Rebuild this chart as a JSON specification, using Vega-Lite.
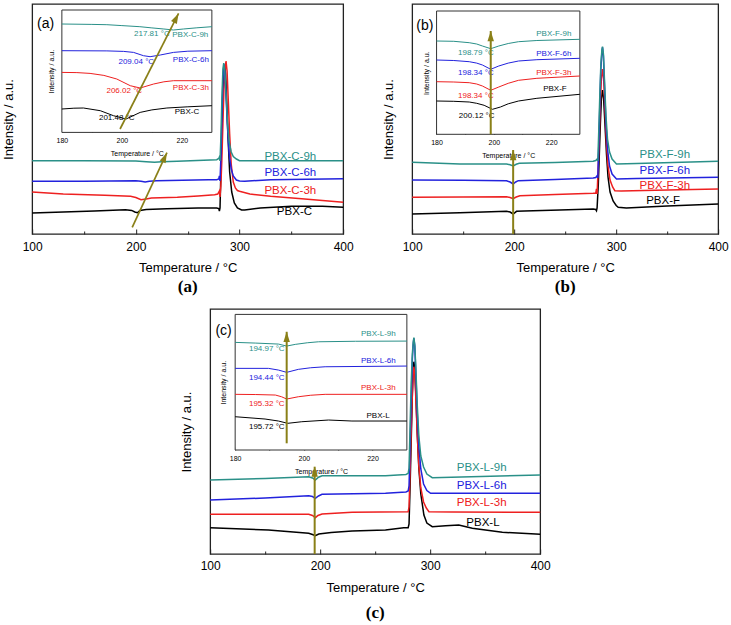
{
"$schema":"https://vega.github.io/schema/vega-lite/v6.json",
"background":"white",
"padding":{"left":1,"top":3,"right":0,"bottom":0},
"datasets":{
"aM":[
{"g":"0","t":100,"v":21},{"g":"0","t":130,"v":22},{"g":"0","t":160,"v":23},{"g":"0","t":190,"v":24.3},{"g":"0","t":196,"v":23.6},{"g":"0","t":199,"v":22},{"g":"0","t":201.5,"v":21.3},{"g":"0","t":204,"v":23.5},{"g":"0","t":210,"v":24.5},{"g":"0","t":230,"v":25.3},{"g":"0","t":260,"v":26},{"g":"0","t":278,"v":26},{"g":"0","t":280,"v":25.5},{"g":"0","t":280.6,"v":23},{"g":"0","t":281.2,"v":26},{"g":"0","t":282,"v":60},{"g":"0","t":283,"v":105},{"g":"0","t":284,"v":145},{"g":"0","t":285,"v":165},{"g":"0","t":285.7,"v":168},{"g":"0","t":286.6,"v":160},{"g":"0","t":287.6,"v":135},{"g":"0","t":289,"v":95},{"g":"0","t":290.5,"v":62},{"g":"0","t":292.5,"v":42},{"g":"0","t":295,"v":31},{"g":"0","t":298,"v":26},{"g":"0","t":302,"v":24},{"g":"0","t":305,"v":24},{"g":"0","t":320,"v":26},{"g":"0","t":350,"v":27.7},{"g":"0","t":380,"v":27.7},{"g":"0","t":400,"v":26.7},
{"g":"3","t":100,"v":42},{"g":"3","t":130,"v":40},{"g":"3","t":170,"v":38.7},{"g":"3","t":195,"v":37.7},{"g":"3","t":200,"v":36.5},{"g":"3","t":205,"v":34.3},{"g":"3","t":210,"v":35},{"g":"3","t":215,"v":36},{"g":"3","t":240,"v":36.7},{"g":"3","t":260,"v":38},{"g":"3","t":276,"v":39.3},{"g":"3","t":279,"v":40},{"g":"3","t":280.6,"v":43},{"g":"3","t":281.2,"v":37},{"g":"3","t":282,"v":48},{"g":"3","t":283,"v":75},{"g":"3","t":284,"v":110},{"g":"3","t":285,"v":145},{"g":"3","t":286,"v":166},{"g":"3","t":287,"v":173},{"g":"3","t":288,"v":163},{"g":"3","t":289,"v":138},{"g":"3","t":290.5,"v":100},{"g":"3","t":292,"v":70},{"g":"3","t":294,"v":52},{"g":"3","t":296,"v":46},{"g":"3","t":298,"v":43.5},{"g":"3","t":300,"v":42.7},{"g":"3","t":310,"v":40},{"g":"3","t":330,"v":37.7},{"g":"3","t":360,"v":35.3},{"g":"3","t":400,"v":31.7},
{"g":"6","t":100,"v":52.7},{"g":"6","t":150,"v":52.7},{"g":"6","t":200,"v":53.3},{"g":"6","t":205,"v":52.8},{"g":"6","t":209,"v":52},{"g":"6","t":213,"v":52.8},{"g":"6","t":220,"v":53.3},{"g":"6","t":270,"v":54.3},{"g":"6","t":278,"v":54.3},{"g":"6","t":280,"v":55},{"g":"6","t":280.6,"v":58},{"g":"6","t":281.2,"v":53},{"g":"6","t":282,"v":75},{"g":"6","t":283,"v":115},{"g":"6","t":284,"v":155},{"g":"6","t":285,"v":170},{"g":"6","t":286,"v":160},{"g":"6","t":287,"v":138},{"g":"6","t":288.5,"v":105},{"g":"6","t":290,"v":80},{"g":"6","t":292,"v":65},{"g":"6","t":294,"v":58},{"g":"6","t":297,"v":54},{"g":"6","t":300,"v":53},{"g":"6","t":305,"v":52.7},{"g":"6","t":330,"v":54.3},{"g":"6","t":400,"v":55.3},
{"g":"9","t":100,"v":73.3},{"g":"9","t":150,"v":73.3},{"g":"9","t":200,"v":73},{"g":"9","t":210,"v":72.2},{"g":"9","t":218,"v":71.7},{"g":"9","t":225,"v":72.2},{"g":"9","t":240,"v":72.7},{"g":"9","t":278,"v":74.3},{"g":"9","t":280,"v":75.5},{"g":"9","t":280.6,"v":77},{"g":"9","t":281.2,"v":73},{"g":"9","t":282,"v":95},{"g":"9","t":283,"v":135},{"g":"9","t":284,"v":165},{"g":"9","t":284.8,"v":171},{"g":"9","t":285.8,"v":163},{"g":"9","t":287,"v":140},{"g":"9","t":288.5,"v":110},{"g":"9","t":290,"v":92},{"g":"9","t":292,"v":82},{"g":"9","t":294,"v":77.5},{"g":"9","t":297,"v":75},{"g":"9","t":300,"v":73.3},{"g":"9","t":400,"v":73.3}
],
"aI":[
{"g":"9","t":180,"v":108.4},{"g":"9","t":190,"v":108},{"g":"9","t":195,"v":107.7},{"g":"9","t":200,"v":106.8},{"g":"9","t":206,"v":105.7},{"g":"9","t":210,"v":104.5},{"g":"9","t":214,"v":103.4},{"g":"9","t":217.2,"v":102.4},{"g":"9","t":220.5,"v":103.4},{"g":"9","t":225,"v":104.6},{"g":"9","t":230,"v":105.7},
{"g":"6","t":180,"v":81.7},{"g":"6","t":195,"v":81.5},{"g":"6","t":200.6,"v":81},{"g":"6","t":203.9,"v":80},{"g":"6","t":207.2,"v":76.7},{"g":"6","t":209.4,"v":75.7},{"g":"6","t":212.8,"v":77.4},{"g":"6","t":217.2,"v":80},{"g":"6","t":222,"v":81.2},{"g":"6","t":230,"v":81.7},
{"g":"3","t":180,"v":60},{"g":"3","t":185,"v":59.8},{"g":"3","t":189.4,"v":59},{"g":"3","t":194,"v":57},{"g":"3","t":198.3,"v":53.4},{"g":"3","t":202.8,"v":46.7},{"g":"3","t":206.1,"v":44.4},{"g":"3","t":210.6,"v":48.4},{"g":"3","t":214,"v":50.6},{"g":"3","t":217.2,"v":51.7},{"g":"3","t":230,"v":51.7},
{"g":"0","t":180,"v":23.4},{"g":"0","t":184,"v":24.2},{"g":"0","t":187.2,"v":24.4},{"g":"0","t":192.8,"v":21.7},{"g":"0","t":197.2,"v":16.7},{"g":"0","t":201.4,"v":13.4},{"g":"0","t":206.1,"v":20},{"g":"0","t":210,"v":22.5},{"g":"0","t":215,"v":24.4},{"g":"0","t":222,"v":25.6},{"g":"0","t":230,"v":26.7}
],
"aML":[{"label":"PBX-C-9h","g":"9","t":349,"v":76.7},{"label":"PBX-C-6h","g":"6","t":349,"v":61},{"label":"PBX-C-3h","g":"3","t":349,"v":42.7},{"label":"PBX-C","g":"0","t":353,"v":22}],
"aIL":[{"label":"217.81 °C","g":"9","t":210,"v":98.4},{"label":"PBX-C-9h","g":"9","t":222.8,"v":97.4},{"label":"209.04 °C","g":"6","t":204.8,"v":70.7},{"label":"PBX-C-6h","g":"6","t":223,"v":72.7},{"label":"206.02 °C","g":"3","t":200.8,"v":41.7},{"label":"PBX-C-3h","g":"3","t":223,"v":44},{"label":"201.48 °C","g":"0","t":198.3,"v":14.4},{"label":"PBX-C","g":"0","t":221.7,"v":20}],
"aMA":[{"t":230,"v":81.3,"t2":196.5,"v2":6.7}],
"aIA":[{"t":218.9,"v":119,"t2":199.4,"v2":3.4}],
"aF":[{"t":180,"v":0,"t2":230,"v2":122.4}],
"aT":[{"label":"(a)","t":113,"v":210}],
"bM":[
{"g":"0","t":100,"v":20},{"g":"0","t":146.7,"v":21.3},{"g":"0","t":192.5,"v":22.7},{"g":"0","t":196,"v":22},{"g":"0","t":199,"v":20},{"g":"0","t":202.3,"v":22.7},{"g":"0","t":210,"v":23},{"g":"0","t":244.8,"v":24},{"g":"0","t":277.5,"v":25},{"g":"0","t":280,"v":24.5},{"g":"0","t":280.7,"v":23.3},{"g":"0","t":281.3,"v":26},{"g":"0","t":282.5,"v":50},{"g":"0","t":283.5,"v":80},{"g":"0","t":284.5,"v":110},{"g":"0","t":285.5,"v":135},{"g":"0","t":286.6,"v":144},{"g":"0","t":287.7,"v":135},{"g":"0","t":289,"v":110},{"g":"0","t":290.5,"v":80},{"g":"0","t":292,"v":57},{"g":"0","t":294,"v":42},{"g":"0","t":297,"v":33},{"g":"0","t":300,"v":28.5},{"g":"0","t":302,"v":26.7},{"g":"0","t":310,"v":26},{"g":"0","t":350,"v":28},{"g":"0","t":400,"v":30},
{"g":"3","t":100,"v":36.7},{"g":"3","t":150,"v":37},{"g":"3","t":192.5,"v":37.3},{"g":"3","t":196,"v":36.5},{"g":"3","t":199,"v":35.3},{"g":"3","t":202,"v":37},{"g":"3","t":205.6,"v":38.3},{"g":"3","t":240,"v":39.5},{"g":"3","t":277.5,"v":40.7},{"g":"3","t":280,"v":41},{"g":"3","t":280.7,"v":45},{"g":"3","t":281.3,"v":40},{"g":"3","t":282.5,"v":70},{"g":"3","t":283.5,"v":100},{"g":"3","t":284.5,"v":130},{"g":"3","t":285.5,"v":155},{"g":"3","t":286.6,"v":165},{"g":"3","t":287.7,"v":155},{"g":"3","t":289,"v":125},{"g":"3","t":290.5,"v":90},{"g":"3","t":292,"v":68},{"g":"3","t":294,"v":54},{"g":"3","t":296.5,"v":47},{"g":"3","t":298.7,"v":43.3},{"g":"3","t":305,"v":43},{"g":"3","t":350,"v":44},{"g":"3","t":400,"v":45},
{"g":"6","t":100,"v":54},{"g":"6","t":150,"v":53.7},{"g":"6","t":192.5,"v":53.3},{"g":"6","t":196,"v":52},{"g":"6","t":199,"v":50},{"g":"6","t":201.5,"v":52},{"g":"6","t":204,"v":53.3},{"g":"6","t":240,"v":54.5},{"g":"6","t":277.5,"v":56},{"g":"6","t":280,"v":56.5},{"g":"6","t":281.4,"v":58.3},{"g":"6","t":282,"v":56},{"g":"6","t":283,"v":90},{"g":"6","t":284,"v":130},{"g":"6","t":285,"v":165},{"g":"6","t":286,"v":182},{"g":"6","t":286.6,"v":186.7},{"g":"6","t":287.5,"v":178},{"g":"6","t":288.5,"v":150},{"g":"6","t":290,"v":110},{"g":"6","t":291.5,"v":85},{"g":"6","t":293.5,"v":68},{"g":"6","t":296,"v":60},{"g":"6","t":300.3,"v":55},{"g":"6","t":320,"v":55.5},{"g":"6","t":400,"v":56.7},
{"g":"9","t":100,"v":71.7},{"g":"9","t":146.7,"v":70},{"g":"9","t":192.5,"v":70},{"g":"9","t":196,"v":69.3},{"g":"9","t":199,"v":68},{"g":"9","t":202,"v":69.7},{"g":"9","t":205,"v":70.7},{"g":"9","t":240,"v":71.5},{"g":"9","t":277.5,"v":72.7},{"g":"9","t":280,"v":73.5},{"g":"9","t":281.4,"v":75},{"g":"9","t":282,"v":73},{"g":"9","t":283,"v":105},{"g":"9","t":284,"v":140},{"g":"9","t":285,"v":170},{"g":"9","t":286,"v":184},{"g":"9","t":286.6,"v":187.3},{"g":"9","t":287.5,"v":180},{"g":"9","t":288.5,"v":155},{"g":"9","t":290,"v":118},{"g":"9","t":291.5,"v":95},{"g":"9","t":293.5,"v":82},{"g":"9","t":296,"v":75},{"g":"9","t":300.3,"v":70},{"g":"9","t":320,"v":70.5},{"g":"9","t":400,"v":72.7}
],
"bI":[
{"g":"9","t":180,"v":93.3},{"g":"9","t":186,"v":93},{"g":"9","t":191.4,"v":91.6},{"g":"9","t":194,"v":90.3},{"g":"9","t":196,"v":88.3},{"g":"9","t":198.9,"v":85.6},{"g":"9","t":201.7,"v":88.3},{"g":"9","t":205,"v":90.8},{"g":"9","t":208.6,"v":92.6},{"g":"9","t":215,"v":93.8},{"g":"9","t":230,"v":95},
{"g":"6","t":180,"v":74.3},{"g":"6","t":186,"v":73.8},{"g":"6","t":191.4,"v":72.6},{"g":"6","t":194,"v":71.2},{"g":"6","t":196,"v":69.3},{"g":"6","t":198.9,"v":65},{"g":"6","t":201.7,"v":68.3},{"g":"6","t":205,"v":71.2},{"g":"6","t":208.6,"v":73.3},{"g":"6","t":215,"v":74.6},{"g":"6","t":230,"v":76},
{"g":"3","t":180,"v":52.6},{"g":"3","t":186,"v":52.3},{"g":"3","t":191.4,"v":51.6},{"g":"3","t":194,"v":50.3},{"g":"3","t":196,"v":48.3},{"g":"3","t":198.9,"v":44},{"g":"3","t":201.7,"v":47.3},{"g":"3","t":205,"v":51},{"g":"3","t":208.6,"v":54},{"g":"3","t":215,"v":56},{"g":"3","t":230,"v":58.3},
{"g":"0","t":180,"v":33.3},{"g":"0","t":186,"v":33},{"g":"0","t":191.4,"v":32.3},{"g":"0","t":194,"v":31},{"g":"0","t":196.6,"v":29},{"g":"0","t":199.5,"v":25},{"g":"0","t":202.3,"v":27.3},{"g":"0","t":205,"v":30.5},{"g":"0","t":208.6,"v":33.3},{"g":"0","t":215,"v":36},{"g":"0","t":230,"v":40}
],
"bML":[{"label":"PBX-F-9h","g":"9","t":347.7,"v":79.3},{"label":"PBX-F-6h","g":"6","t":347.7,"v":62.7},{"label":"PBX-F-3h","g":"3","t":347.7,"v":47.7},{"label":"PBX-F","g":"0","t":346,"v":33.3}],
"bIL":[{"label":"198.79 °C","g":"9","t":193.7,"v":81.6},{"label":"PBX-F-9h","g":"9","t":220.9,"v":100},{"label":"198.34 °C","g":"6","t":193.7,"v":61},{"label":"PBX-F-6h","g":"6","t":220.9,"v":80},{"label":"198.34 °C","g":"3","t":193.7,"v":38.3},{"label":"PBX-F-3h","g":"3","t":220.9,"v":61.6},{"label":"200.12 °C","g":"0","t":194,"v":18.3},{"label":"PBX-F","g":"0","t":221.3,"v":45}],
"bMA":[{"t":199,"v":84,"t2":199,"v2":0}],
"bIA":[{"t":198.9,"v":103.3,"t2":198.9,"v2":0}],
"bF":[{"t":180,"v":0,"t2":230,"v2":123.3}],
"bT":[{"label":"(b)","t":112.5,"v":208}],
"cM":[
{"g":"0","t":100,"v":26.3},{"g":"0","t":153,"v":24},{"g":"0","t":189.6,"v":20.7},{"g":"0","t":193,"v":19.5},{"g":"0","t":195.6,"v":18.3},{"g":"0","t":198.7,"v":20},{"g":"0","t":210,"v":21.5},{"g":"0","t":229,"v":23},{"g":"0","t":259.4,"v":24},{"g":"0","t":276,"v":26.3},{"g":"0","t":280,"v":26.3},{"g":"0","t":280.8,"v":30},{"g":"0","t":281.8,"v":70},{"g":"0","t":282.8,"v":115},{"g":"0","t":283.8,"v":160},{"g":"0","t":284.6,"v":185},{"g":"0","t":285.2,"v":192.3},{"g":"0","t":286,"v":185},{"g":"0","t":287,"v":160},{"g":"0","t":288.3,"v":120},{"g":"0","t":289.7,"v":85.7},{"g":"0","t":291.5,"v":60},{"g":"0","t":294.3,"v":39},{"g":"0","t":297,"v":31},{"g":"0","t":301.9,"v":27.3},{"g":"0","t":314,"v":28.3},{"g":"0","t":326,"v":29},{"g":"0","t":338.3,"v":25.7},{"g":"0","t":365.6,"v":21.7},{"g":"0","t":400,"v":19.7},
{"g":"3","t":100,"v":39.7},{"g":"3","t":150,"v":39.7},{"g":"3","t":189.6,"v":39.7},{"g":"3","t":193,"v":38.5},{"g":"3","t":195.6,"v":36.3},{"g":"3","t":198,"v":38.5},{"g":"3","t":201.7,"v":40},{"g":"3","t":229,"v":41.7},{"g":"3","t":280,"v":42.3},{"g":"3","t":280.8,"v":47},{"g":"3","t":281.8,"v":85},{"g":"3","t":282.8,"v":125},{"g":"3","t":283.8,"v":160},{"g":"3","t":284.6,"v":180},{"g":"3","t":285.2,"v":187.3},{"g":"3","t":286,"v":180},{"g":"3","t":287,"v":155},{"g":"3","t":288.3,"v":118},{"g":"3","t":289.7,"v":88},{"g":"3","t":291.5,"v":66},{"g":"3","t":294,"v":52},{"g":"3","t":296.5,"v":46},{"g":"3","t":298.9,"v":42.3},{"g":"3","t":320,"v":42},{"g":"3","t":400,"v":41.7},
{"g":"6","t":100,"v":54},{"g":"6","t":150,"v":56},{"g":"6","t":189.6,"v":58.3},{"g":"6","t":193,"v":57.5},{"g":"6","t":195.6,"v":55.7},{"g":"6","t":198.5,"v":58},{"g":"6","t":201.7,"v":59.7},{"g":"6","t":259.4,"v":60.7},{"g":"6","t":278,"v":62},{"g":"6","t":280,"v":63},{"g":"6","t":280.8,"v":68},{"g":"6","t":281.8,"v":110},{"g":"6","t":282.8,"v":155},{"g":"6","t":283.8,"v":195},{"g":"6","t":284.6,"v":210},{"g":"6","t":285.2,"v":215.7},{"g":"6","t":286,"v":208},{"g":"6","t":287,"v":180},{"g":"6","t":288.3,"v":140},{"g":"6","t":289.7,"v":108},{"g":"6","t":291.5,"v":85},{"g":"6","t":294,"v":70},{"g":"6","t":297,"v":63.5},{"g":"6","t":300.4,"v":60.7},{"g":"6","t":400,"v":60.7},
{"g":"9","t":100,"v":74},{"g":"9","t":150,"v":75.5},{"g":"9","t":189.6,"v":77.3},{"g":"9","t":193,"v":76},{"g":"9","t":195.6,"v":74},{"g":"9","t":198.5,"v":76.8},{"g":"9","t":201.7,"v":78.3},{"g":"9","t":259.4,"v":78.3},{"g":"9","t":278,"v":79.5},{"g":"9","t":280,"v":80.7},{"g":"9","t":280.8,"v":86},{"g":"9","t":281.8,"v":130},{"g":"9","t":282.8,"v":172},{"g":"9","t":283.8,"v":200},{"g":"9","t":284.6,"v":212},{"g":"9","t":285.2,"v":216.3},{"g":"9","t":286,"v":209},{"g":"9","t":287,"v":185},{"g":"9","t":288.3,"v":148},{"g":"9","t":289.7,"v":118},{"g":"9","t":291.5,"v":98},{"g":"9","t":294,"v":87},{"g":"9","t":297,"v":80},{"g":"9","t":301.9,"v":76.3},{"g":"9","t":400,"v":79}
],
"cI":[
{"g":"9","t":180,"v":107.7},{"g":"9","t":186,"v":107},{"g":"9","t":192.6,"v":106},{"g":"9","t":195,"v":104},{"g":"9","t":197.5,"v":105.7},{"g":"9","t":201,"v":107.3},{"g":"9","t":204.3,"v":108.3},{"g":"9","t":215,"v":108.8},{"g":"9","t":230,"v":109},
{"g":"6","t":180,"v":81.7},{"g":"6","t":189.7,"v":81.7},{"g":"6","t":192.6,"v":80},{"g":"6","t":195,"v":77.7},{"g":"6","t":198.4,"v":80.7},{"g":"6","t":202,"v":82.3},{"g":"6","t":206.2,"v":83.3},{"g":"6","t":230,"v":84},
{"g":"3","t":180,"v":55.7},{"g":"3","t":186,"v":55.5},{"g":"3","t":191.7,"v":55},{"g":"3","t":193.5,"v":53.3},{"g":"3","t":195,"v":51},{"g":"3","t":198.4,"v":53.3},{"g":"3","t":202,"v":54.8},{"g":"3","t":206.2,"v":55.7},{"g":"3","t":230,"v":55.7},
{"g":"0","t":180,"v":33.3},{"g":"0","t":188.7,"v":31},{"g":"0","t":192.6,"v":29},{"g":"0","t":195.3,"v":26.7},{"g":"0","t":199.4,"v":28.3},{"g":"0","t":207.2,"v":30},{"g":"0","t":214,"v":29},{"g":"0","t":230,"v":29}
],
"cML":[{"label":"PBX-L-9h","g":"9","t":346.8,"v":85.7},{"label":"PBX-L-6h","g":"6","t":346.8,"v":68},{"label":"PBX-L-3h","g":"3","t":346.8,"v":51.3},{"label":"PBX-L","g":"0","t":348,"v":31.3}],
"cIL":[{"label":"194.97 °C","g":"9","t":189.2,"v":100.7},{"label":"PBX-L-9h","g":"9","t":221.7,"v":115.7},{"label":"194.44 °C","g":"6","t":189.2,"v":71.7},{"label":"PBX-L-6h","g":"6","t":221.7,"v":89.3},{"label":"195.32 °C","g":"3","t":189.2,"v":45.7},{"label":"PBX-L-3h","g":"3","t":221.7,"v":61.7},{"label":"195.72 °C","g":"0","t":189.2,"v":22.7},{"label":"PBX-L","g":"0","t":221.6,"v":34.3}],
"cMA":[{"t":195,"v":87.3,"t2":195,"v2":0}],
"cIA":[{"t":195,"v":118.3,"t2":195,"v2":6.7}],
"cF":[{"t":180,"v":0,"t2":230,"v2":135.7}],
"cT":[{"label":"(c)","t":112.2,"v":223}]
},
"vconcat":[
{"hconcat":[
{
"width":311,"height":230,
"title":{"text":"(a)","orient":"bottom","font":"Liberation Serif","fontSize":17,"fontWeight":"bold","offset":5,"color":"black"},
"layer":[
{"encoding":{
"x":{"field":"t","type":"quantitative","scale":{"domain":[100,400],"nice":false,"zero":false},"axis":{"orient":"bottom","values":[100,150,200,250,300,350,400],"labelExpr":"datum.value % 100 === 0 ? datum.label : ''","tickSize":{"condition":{"test":"datum.value % 100 === 0","value":-5},"value":-3},"domain":false,"labelFontSize":12,"labelPadding":12,"labelFlush":false,"labelOverlap":false,"title":"Temperature / °C","titleFontSize":13,"titlePadding":7}},
"y":{"field":"v","type":"quantitative","scale":{"domain":[0,230],"nice":false,"zero":false},"axis":{"orient":"left","title":"Intensity / a.u.","labels":false,"ticks":false,"domain":false,"titleFontSize":13,"titlePadding":17}}},
"layer":[
{"data":{"name":"aM"},"mark":{"type":"line","strokeWidth":1.5},"encoding":{"color":{"field":"g","type":"nominal","scale":{"domain":["0","3","6","9"],"range":["#000000","#ee2020","#2222dd","#2a9088"]},"legend":null}}},
{"data":{"name":"aML"},"mark":{"type":"text","fontSize":11.5},"encoding":{"text":{"field":"label"},"color":{"field":"g","type":"nominal","scale":{"domain":["0","3","6","9"],"range":["#000000","#ee2020","#2222dd","#2a9088"]},"legend":null}}},
{"data":{"name":"aMA"},"mark":{"type":"rule","color":"#8a8018","strokeWidth":1.7},"encoding":{"x2":{"field":"t2"},"y2":{"field":"v2"}}},
{"data":{"name":"aMA"},"mark":{"type":"point","shape":"M0,0L0.7,2.2L-0.7,2.2Z","filled":true,"color":"#8a8018","opacity":1,"size":85,"angle":25},"encoding":{}},
{"data":{"name":"aT"},"mark":{"type":"text","fontSize":14,"color":"black"},"encoding":{"text":{"field":"label"}}}
]},
{"encoding":{
"x":{"field":"t","type":"quantitative","scale":{"domain":[180,230],"range":[29.7,179.7],"nice":false,"zero":false},"axis":{"orient":"bottom","offset":-101.6,"values":[180,190,200,210,220],"labelExpr":"datum.value % 20 === 0 ? datum.label : ''","tickSize":{"condition":{"test":"datum.value % 20 === 0","value":-3},"value":-2},"domain":false,"labelFontSize":7,"labelPadding":7,"labelFlush":false,"labelOverlap":false,"title":"Temperature / °C","titleFontSize":7,"titlePadding":5}},
"y":{"field":"v","type":"quantitative","scale":{"domain":[0,122.4],"range":[128.4,6],"nice":false,"zero":false},"axis":{"orient":"left","offset":-29.7,"title":"Intensity / a.u.","labels":false,"ticks":false,"domain":false,"titleFontSize":7,"titlePadding":7}}},
"layer":[
{"data":{"name":"aF"},"mark":{"type":"rect","fill":"white","stroke":"#333","strokeWidth":1},"encoding":{"x2":{"field":"t2"},"y2":{"field":"v2"}}},
{"data":{"name":"aI"},"mark":{"type":"line","strokeWidth":1},"encoding":{"color":{"field":"g","type":"nominal","scale":{"domain":["0","3","6","9"],"range":["#000000","#ee2020","#2222dd","#2a9088"]},"legend":null}}},
{"data":{"name":"aIL"},"mark":{"type":"text","fontSize":8},"encoding":{"text":{"field":"label"},"color":{"field":"g","type":"nominal","scale":{"domain":["0","3","6","9"],"range":["#000000","#ee2020","#2222dd","#2a9088"]},"legend":null}}},
{"data":{"name":"aIA"},"mark":{"type":"rule","color":"#8a8018","strokeWidth":1.7},"encoding":{"x2":{"field":"t2"},"y2":{"field":"v2"}}},
{"data":{"name":"aIA"},"mark":{"type":"point","shape":"M0,0L0.7,2.2L-0.7,2.2Z","filled":true,"color":"#8a8018","opacity":1,"size":85,"angle":27},"encoding":{}}
]}
],
"resolve":{"scale":{"x":"independent","y":"independent"},"axis":{"x":"independent","y":"independent"}}
},
{
"width":306,"height":230,
"title":{"text":"(b)","orient":"bottom","font":"Liberation Serif","fontSize":17,"fontWeight":"bold","offset":5,"color":"black"},
"layer":[
{"encoding":{
"x":{"field":"t","type":"quantitative","scale":{"domain":[100,400],"nice":false,"zero":false},"axis":{"orient":"bottom","values":[100,150,200,250,300,350,400],"labelExpr":"datum.value % 100 === 0 ? datum.label : ''","tickSize":{"condition":{"test":"datum.value % 100 === 0","value":-5},"value":-3},"domain":false,"labelFontSize":12,"labelPadding":12,"labelFlush":false,"labelOverlap":false,"title":"Temperature / °C","titleFontSize":13,"titlePadding":7}},
"y":{"field":"v","type":"quantitative","scale":{"domain":[0,230],"nice":false,"zero":false},"axis":{"orient":"left","title":"Intensity / a.u.","labels":false,"ticks":false,"domain":false,"titleFontSize":13,"titlePadding":17}}},
"layer":[
{"data":{"name":"bM"},"mark":{"type":"line","strokeWidth":1.5},"encoding":{"color":{"field":"g","type":"nominal","scale":{"domain":["0","3","6","9"],"range":["#000000","#ee2020","#2222dd","#2a9088"]},"legend":null}}},
{"data":{"name":"bML"},"mark":{"type":"text","fontSize":11.5},"encoding":{"text":{"field":"label"},"color":{"field":"g","type":"nominal","scale":{"domain":["0","3","6","9"],"range":["#000000","#ee2020","#2222dd","#2a9088"]},"legend":null}}},
{"data":{"name":"bMA"},"mark":{"type":"rule","color":"#8a8018","strokeWidth":2},"encoding":{"x2":{"field":"t2"},"y2":{"field":"v2"}}},
{"data":{"name":"bMA"},"mark":{"type":"point","shape":"M0,0L0.7,2.2L-0.7,2.2Z","filled":true,"color":"#8a8018","opacity":1,"size":85},"encoding":{}},
{"data":{"name":"bT"},"mark":{"type":"text","fontSize":14,"color":"black"},"encoding":{"text":{"field":"label"}}}
]},
{"encoding":{
"x":{"field":"t","type":"quantitative","scale":{"domain":[180,230],"range":[24.4,167.7],"nice":false,"zero":false},"axis":{"orient":"bottom","offset":-99.7,"values":[180,190,200,210,220],"labelExpr":"datum.value % 20 === 0 ? datum.label : ''","tickSize":{"condition":{"test":"datum.value % 20 === 0","value":-3},"value":-2},"domain":false,"labelFontSize":7,"labelPadding":7,"labelFlush":false,"labelOverlap":false,"title":"Temperature / °C","titleFontSize":7,"titlePadding":5}},
"y":{"field":"v","type":"quantitative","scale":{"domain":[0,123.3],"range":[130.3,7],"nice":false,"zero":false},"axis":{"orient":"left","offset":-24.4,"title":"Intensity / a.u.","labels":false,"ticks":false,"domain":false,"titleFontSize":7,"titlePadding":7}}},
"layer":[
{"data":{"name":"bF"},"mark":{"type":"rect","fill":"white","stroke":"#333","strokeWidth":1},"encoding":{"x2":{"field":"t2"},"y2":{"field":"v2"}}},
{"data":{"name":"bI"},"mark":{"type":"line","strokeWidth":1},"encoding":{"color":{"field":"g","type":"nominal","scale":{"domain":["0","3","6","9"],"range":["#000000","#ee2020","#2222dd","#2a9088"]},"legend":null}}},
{"data":{"name":"bIL"},"mark":{"type":"text","fontSize":8},"encoding":{"text":{"field":"label"},"color":{"field":"g","type":"nominal","scale":{"domain":["0","3","6","9"],"range":["#000000","#ee2020","#2222dd","#2a9088"]},"legend":null}}},
{"data":{"name":"bIA"},"mark":{"type":"rule","color":"#8a8018","strokeWidth":2},"encoding":{"x2":{"field":"t2"},"y2":{"field":"v2"}}},
{"data":{"name":"bIA"},"mark":{"type":"point","shape":"M0,0L0.7,2.2L-0.7,2.2Z","filled":true,"color":"#8a8018","opacity":1,"size":85},"encoding":{}}
]}
],
"resolve":{"scale":{"x":"independent","y":"independent"},"axis":{"x":"independent","y":"independent"}}
}
],"spacing":27},
{
"width":330,"height":245,
"title":{"text":"(c)","orient":"bottom","font":"Liberation Serif","fontSize":17,"fontWeight":"bold","offset":11,"color":"black"},
"layer":[
{"encoding":{
"x":{"field":"t","type":"quantitative","scale":{"domain":[100,400],"nice":false,"zero":false},"axis":{"orient":"bottom","values":[100,150,200,250,300,350,400],"labelExpr":"datum.value % 100 === 0 ? datum.label : ''","tickSize":{"condition":{"test":"datum.value % 100 === 0","value":-5},"value":-3},"domain":false,"labelFontSize":12,"labelPadding":11,"labelFlush":false,"labelOverlap":false,"title":"Temperature / °C","titleFontSize":13,"titlePadding":8}},
"y":{"field":"v","type":"quantitative","scale":{"domain":[0,245],"nice":false,"zero":false},"axis":{"orient":"left","title":"Intensity / a.u.","labels":false,"ticks":false,"domain":false,"titleFontSize":13,"titlePadding":17}}},
"layer":[
{"data":{"name":"cM"},"mark":{"type":"line","strokeWidth":1.5},"encoding":{"color":{"field":"g","type":"nominal","scale":{"domain":["0","3","6","9"],"range":["#000000","#ee2020","#2222dd","#2a9088"]},"legend":null}}},
{"data":{"name":"cML"},"mark":{"type":"text","fontSize":11.5},"encoding":{"text":{"field":"label"},"color":{"field":"g","type":"nominal","scale":{"domain":["0","3","6","9"],"range":["#000000","#ee2020","#2222dd","#2a9088"]},"legend":null}}},
{"data":{"name":"cMA"},"mark":{"type":"rule","color":"#8a8018","strokeWidth":2},"encoding":{"x2":{"field":"t2"},"y2":{"field":"v2"}}},
{"data":{"name":"cMA"},"mark":{"type":"point","shape":"M0,0L0.7,2.2L-0.7,2.2Z","filled":true,"color":"#8a8018","opacity":1,"size":85},"encoding":{}},
{"data":{"name":"cT"},"mark":{"type":"text","fontSize":14,"color":"black"},"encoding":{"text":{"field":"label"}}}
]},
{"encoding":{
"x":{"field":"t","type":"quantitative","scale":{"domain":[180,230],"range":[25,196.7],"nice":false,"zero":false},"axis":{"orient":"bottom","offset":-104,"values":[180,190,200,210,220],"labelExpr":"datum.value % 20 === 0 ? datum.label : ''","tickSize":{"condition":{"test":"datum.value % 20 === 0","value":-3},"value":-2},"domain":false,"labelFontSize":7,"labelPadding":7,"labelFlush":false,"labelOverlap":false,"title":"Temperature / °C","titleFontSize":7,"titlePadding":5}},
"y":{"field":"v","type":"quantitative","scale":{"domain":[0,135.7],"range":[141,5.4],"nice":false,"zero":false},"axis":{"orient":"left","offset":-25,"title":"Intensity / a.u.","labels":false,"ticks":false,"domain":false,"titleFontSize":7,"titlePadding":9}}},
"layer":[
{"data":{"name":"cF"},"mark":{"type":"rect","fill":"white","stroke":"#333","strokeWidth":1},"encoding":{"x2":{"field":"t2"},"y2":{"field":"v2"}}},
{"data":{"name":"cI"},"mark":{"type":"line","strokeWidth":1},"encoding":{"color":{"field":"g","type":"nominal","scale":{"domain":["0","3","6","9"],"range":["#000000","#ee2020","#2222dd","#2a9088"]},"legend":null}}},
{"data":{"name":"cIL"},"mark":{"type":"text","fontSize":8},"encoding":{"text":{"field":"label"},"color":{"field":"g","type":"nominal","scale":{"domain":["0","3","6","9"],"range":["#000000","#ee2020","#2222dd","#2a9088"]},"legend":null}}},
{"data":{"name":"cIA"},"mark":{"type":"rule","color":"#8a8018","strokeWidth":2},"encoding":{"x2":{"field":"t2"},"y2":{"field":"v2"}}},
{"data":{"name":"cIA"},"mark":{"type":"point","shape":"M0,0L0.7,2.2L-0.7,2.2Z","filled":true,"color":"#8a8018","opacity":1,"size":85},"encoding":{}}
]}
],
"resolve":{"scale":{"x":"independent","y":"independent"},"axis":{"x":"independent","y":"independent"}}
}
],
"spacing":12,
"center":true,
"config":{
"view":{"stroke":"#222","strokeWidth":1.3},
"font":"Liberation Sans",
"axis":{"labelColor":"#000","titleColor":"#000","tickColor":"#222","titleFontWeight":"normal","labelFont":"Liberation Sans","titleFont":"Liberation Sans","grid":false},
"text":{"font":"Liberation Sans"}
}
}
